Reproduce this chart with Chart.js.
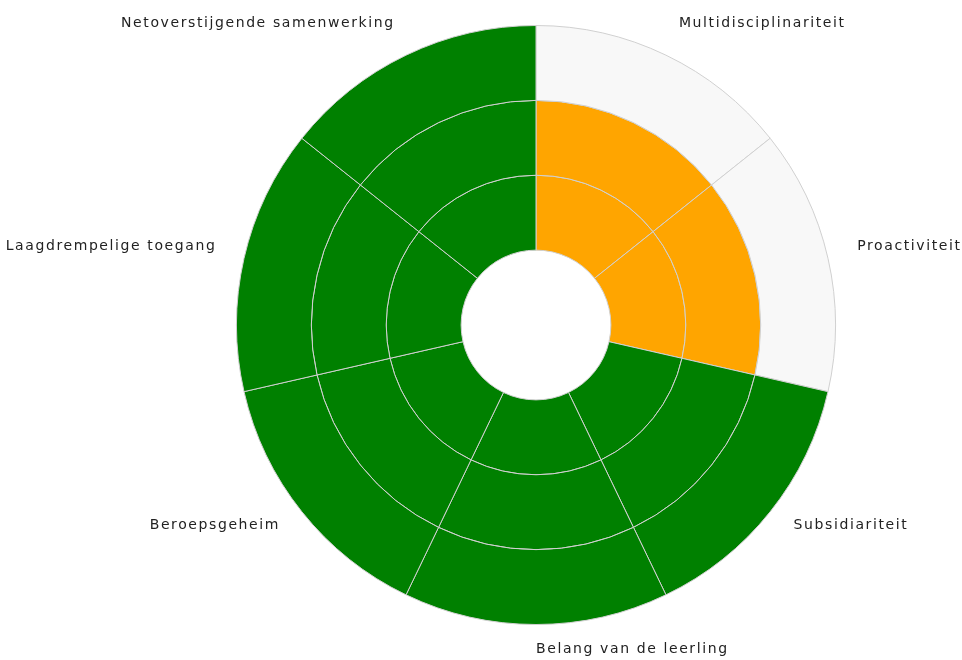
<!DOCTYPE html>
<html>
<head>
<meta charset="utf-8">
<script src="https://cdn.jsdelivr.net/npm/chart.js@4"></script>
<style>
  html, body { margin: 0; padding: 0; background: #fff; }
  #wrap { width: 962px; height: 660px; }
</style>
</head>
<body>
<div id="wrap"><canvas id="chart" width="962" height="660"></canvas></div>
<script>
// categories, clockwise from the top
const categories = [
  'Multidisciplinariteit',
  'Proactiviteit',
  'Subsidiariteit',
  'Belang van de leerling',
  'Beroepsgeheim',
  'Laagdrempelige toegang',
  'Netoverstijgende samenwerking'
];
// score reached per category (out of 3 rings)
const scores = [2, 2, 3, 3, 3, 3, 3];
// rings from outside to inside
const ringLevels = [3, 2, 1];

const FULL = '#008000', PART = '#ffa500', EMPTY = '#f8f8f8';

function colorFor(score, level) {
  if (level > score) return EMPTY;
  return score >= 3 ? FULL : PART;
}

const datasets = ringLevels.map(level => ({
  label: 'Niveau ' + level,
  data: categories.map(() => 1),
  backgroundColor: scores.map(s => colorFor(s, level)),
  borderColor: '#d0d0d0',
  borderWidth: 1,
  borderAlign: 'center'
}));

// draw the category names around the outer ring
const outerLabels = {
  id: 'outerLabels',
  afterDraw(chart) {
    const meta = chart.getDatasetMeta(0);
    const c = chart.ctx;
    c.save();
    c.font = '14px "DejaVu Sans"';
    c.letterSpacing = '1.6px';
    c.fillStyle = '#222';
    c.textBaseline = 'middle';
    meta.data.forEach((arc, i) => {
      const mid = (arc.startAngle + arc.endAngle) / 2;
      const r = arc.outerRadius * 1.1;
      const x = arc.x + Math.cos(mid) * r;
      const y = arc.y + Math.sin(mid) * r - 5;
      const right = Math.cos(mid) >= -1e-6;
      c.textAlign = right ? 'left' : 'right';
      c.fillText(categories[i], right ? x : x + 1.6, y);
    });
    c.restore();
  }
};

new Chart(document.getElementById('chart'), {
  type: 'doughnut',
  data: { labels: categories, datasets: datasets },
  options: {
    responsive: false,
    animation: false,
    cutout: '25%',
    layout: { padding: { top: 25, bottom: 35, left: 236, right: 126 } },
    plugins: {
      legend: { display: false },
      tooltip: { enabled: false }
    }
  },
  plugins: [outerLabels]
});
</script>
</body>
</html>
